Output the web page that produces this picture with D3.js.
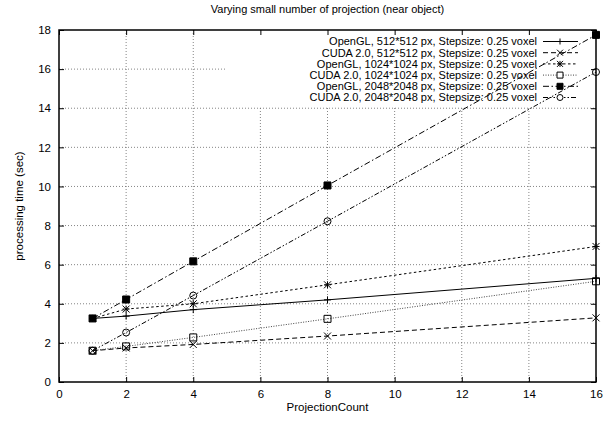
<!DOCTYPE html>
<html>
<head>
<meta charset="utf-8">
<script src="https://cdn.jsdelivr.net/npm/d3@7"></script>
<style>
  body { margin: 0; background: #fff; }
  svg { font-family: "Liberation Sans", Arial, sans-serif; }
</style>
</head>
<body>
<div id="chart-container"></div>
<script>
'use strict';

// data
const projectionCount = [1, 2, 4, 8, 16];
const seriesNames = [
  'OpenGL, 512*512 px, Stepsize: 0.25 voxel',
  'CUDA 2.0, 512*512 px, Stepsize: 0.25 voxel',
  'OpenGL, 1024*1024 px, Stepsize: 0.25 voxel',
  'CUDA 2.0, 1024*1024 px, Stepsize: 0.25 voxel',
  'OpenGL, 2048*2048 px, Stepsize: 0.25 voxel',
  'CUDA 2.0, 2048*2048 px, Stepsize: 0.25 voxel'
];
const openGL512 = [3.25, 3.37, 3.7, 4.2, 5.3];
const cuda512 = [1.6, 1.74, 1.92, 2.35, 3.28];
const openGL1024 = [3.25, 3.73, 4.0, 4.97, 6.93];
const cuda1024 = [1.6, 1.82, 2.28, 3.23, 5.15];
const openGL2048 = [3.25, 4.22, 6.17, 10.05, 17.75];
const cuda2048 = [1.6, 2.53, 4.42, 8.22, 15.85];
const xTicks = [0, 2, 4, 6, 8, 10, 12, 14, 16];
const yTicks = [0, 2, 4, 6, 8, 10, 12, 14, 16, 18];

const seriesValues = [openGL512, cuda512, openGL1024, cuda1024, openGL2048, cuda2048];

var width = 611;
var height = 423;
var margin = {top: 30, right: 15, bottom: 41, left: 59};

// line dash + marker per series (gnuplot monochrome look)
var styles = [
  {dash: null, marker: 'plus', colour: '#000'},
  {dash: '5,3', marker: 'cross', colour: '#000'},
  {dash: '2.5,2.5', marker: 'star', colour: '#000'},
  {dash: '1,1.5', marker: 'square', colour: '#444'},
  {dash: '6,2.5,1.5,2.5', marker: 'filled', colour: '#000'},
  {dash: '5,2,1.5,2,1.5,2', marker: 'circle', colour: '#000'}
];

function markerPath(type, s) {
  switch (type) {
    case 'plus': return `M${-s},0H${s}M0,${-s}V${s}`;
    case 'cross': return `M${-s},${-s}L${s},${s}M${-s},${s}L${s},${-s}`;
    case 'star': return `M${-s},0H${s}M0,${-s}V${s}M${-s},${-s}L${s},${s}M${-s},${s}L${s},${-s}`;
    case 'square':
    case 'filled': return `M${-s},${-s}H${s}V${s}H${-s}Z`;
    case 'circle': return d3.arc()({innerRadius: 0, outerRadius: s, startAngle: 0, endAngle: 2 * Math.PI});
  }
}

var svg = d3.select('#chart-container')
  .append('svg')
  .attr('width', width)
  .attr('height', height);

var x = d3.scaleLinear().domain([0, 16]).range([margin.left, width - margin.right]);
var y = d3.scaleLinear().domain([0, 18]).range([height - margin.bottom, margin.top]);

// grid
var grid = svg.append('g')
  .attr('stroke', '#666')
  .attr('stroke-width', 0.8)
  .attr('stroke-dasharray', '1,2');
grid.selectAll('.gx')
  .data(xTicks.slice(1, -1))
  .enter().append('line')
  .attr('x1', d => x(d)).attr('x2', d => x(d))
  .attr('y1', y(0)).attr('y2', y(18));
grid.selectAll('.gy')
  .data(yTicks.slice(1, -1))
  .enter().append('line')
  .attr('x1', x(0)).attr('x2', x(16))
  .attr('y1', d => y(d)).attr('y2', d => y(d));

// key area covers the grid
var keyRight = 537;
var keyTop = 41.5;
var keyStep = 11.2;
svg.append('rect')
  .attr('x', 225).attr('y', y(18))
  .attr('width', x(16) - 225).attr('height', 76)
  .attr('fill', '#fff');

var key = svg.append('g');
seriesNames.forEach(function(name, i) {
  var ky = keyTop + i * keyStep;
  key.append('text')
    .attr('x', keyRight).attr('y', ky)
    .attr('dy', '0.35em')
    .attr('text-anchor', 'end')
    .attr('font-size', 11)
    .text(name);
  key.append('line')
    .attr('x1', 543).attr('x2', 578)
    .attr('y1', ky).attr('y2', ky)
    .attr('stroke', styles[i].colour)
    .attr('stroke-width', 1)
    .attr('stroke-dasharray', styles[i].dash);
  key.append('path')
    .attr('transform', 'translate(560,' + ky + ')')
    .attr('d', markerPath(styles[i].marker, 3))
    .attr('fill', styles[i].marker == 'filled' ? '#000' : (styles[i].marker == 'square' || styles[i].marker == 'circle' ? '#fff' : 'none'))
    .attr('stroke', '#000')
    .attr('stroke-width', 1);
});

// series lines + markers
var line = d3.line()
  .x((d, i) => x(projectionCount[i]))
  .y(d => y(d));

seriesValues.forEach(function(vals, i) {
  var st = styles[i];
  svg.append('path')
    .datum(vals)
    .attr('d', line)
    .attr('fill', 'none')
    .attr('stroke', st.colour)
    .attr('stroke-width', 1)
    .attr('stroke-dasharray', st.dash);
  svg.append('g')
    .selectAll('path')
    .data(vals)
    .enter()
    .append('path')
    .attr('transform', (d, j) => 'translate(' + x(projectionCount[j]) + ',' + y(d) + ')')
    .attr('d', markerPath(st.marker, 3.5))
    .attr('fill', st.marker == 'filled' ? '#000' : 'none')
    .attr('stroke', '#000')
    .attr('stroke-width', 1);
});

// axes with inward ticks
var fontSize = 11.5;
svg.append('g')
  .attr('transform', 'translate(0,' + y(0) + ')')
  .call(d3.axisBottom(x).tickValues(xTicks).tickSize(-5).tickPadding(8))
  .call(g => g.select('.domain').remove())
  .call(g => g.selectAll('text').attr('font-size', fontSize).attr('font-family', null));
svg.append('g')
  .attr('transform', 'translate(' + x(0) + ',0)')
  .call(d3.axisLeft(y).tickValues(yTicks).tickSize(-5).tickPadding(8))
  .call(g => g.select('.domain').remove())
  .call(g => g.selectAll('text').attr('font-size', fontSize).attr('font-family', null));
svg.append('g')
  .attr('transform', 'translate(0,' + y(18) + ')')
  .call(d3.axisTop(x).tickValues(xTicks).tickSize(-5).tickFormat(''))
  .call(g => g.select('.domain').remove());
svg.append('g')
  .attr('transform', 'translate(' + x(16) + ',0)')
  .call(d3.axisRight(y).tickValues(yTicks).tickSize(-5).tickFormat(''))
  .call(g => g.select('.domain').remove());

// frame
svg.append('rect')
  .attr('x', x(0)).attr('y', y(18))
  .attr('width', x(16) - x(0)).attr('height', y(0) - y(18))
  .attr('fill', 'none')
  .attr('stroke', '#000')
  .attr('stroke-width', 1.5);

// titles
svg.append('text')
  .attr('x', (x(0) + x(16)) / 2).attr('y', 13)
  .attr('text-anchor', 'middle')
  .attr('font-size', 11)
  .text('Varying small number of projection (near object)');
svg.append('text')
  .attr('x', (x(0) + x(16)) / 2).attr('y', 411)
  .attr('text-anchor', 'middle')
  .attr('font-size', fontSize)
  .text('ProjectionCount');
svg.append('text')
  .attr('transform', 'translate(23,' + ((y(0) + y(18)) / 2) + ') rotate(-90)')
  .attr('text-anchor', 'middle')
  .attr('font-size', fontSize)
  .text('processing time (sec)');
</script>
</body>
</html>
